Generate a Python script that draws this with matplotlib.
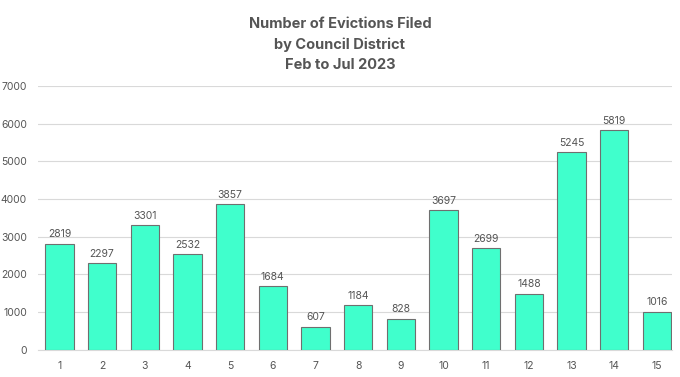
import numpy as np
import matplotlib.pyplot as plt

plt.rcParams["font.family"] = ["Inter", "DejaVu Sans"]

# datos
districts = [str(i) for i in range(1, 16)]
evictions = [2819, 2297, 3301, 2532, 3857, 1684, 607, 1184, 828, 3697, 2699, 1488, 5245, 5819, 1016]
yticks = [0, 1000, 2000, 3000, 4000, 5000, 6000, 7000]

txt_color = "#555555"

fig = plt.figure(figsize=(6.8, 3.77), dpi=100)
ax = fig.add_axes([0.056, 0.072, 0.932, 0.70])

x = np.arange(1, len(districts) + 1)
bars = ax.bar(x, evictions, width=0.66, color="#40FFCC", edgecolor="#6f6f6f", linewidth=0.8, zorder=3)

for xi, v in zip(x, evictions):
    ax.text(xi, v + 120, str(v), ha="center", va="bottom", fontsize=7.5, color=txt_color)

ax.set_ylim(0, 7000)
ax.set_xlim(0.5, 15.35)
ax.set_yticks(yticks)
ax.set_yticklabels([str(t) for t in yticks])
ax.set_xticks(x)
ax.set_xticklabels(districts)
ax.tick_params(axis="both", length=0, labelsize=7.5, colors=txt_color)
ax.tick_params(axis="x", pad=8)
ax.tick_params(axis="y", pad=8)
ax.grid(axis="y", color="#d9d9d9", linewidth=0.8, zorder=0)
for s in ["top", "right", "left"]:
    ax.spines[s].set_visible(False)
ax.spines["bottom"].set_color("#d9d9d9")

fig.text(0.5, 0.955, "Number of Evictions Filed\nby Council District\nFeb to Jul 2023",
         ha="center", va="top", fontsize=10.5, fontweight="bold", color=txt_color, linespacing=1.55)

fig.savefig("out.png", dpi=100)
